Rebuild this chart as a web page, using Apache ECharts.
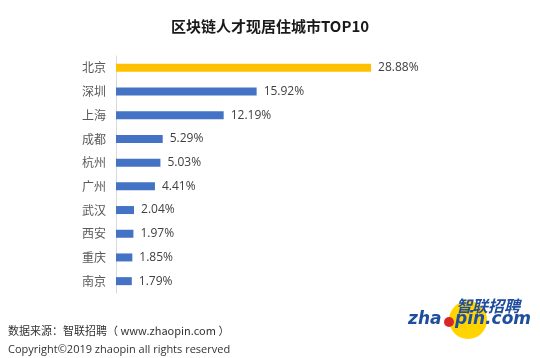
<!DOCTYPE html>
<html><head><meta charset="utf-8">
<script src="https://cdn.jsdelivr.net/npm/echarts@6/dist/echarts.min.js"></script>
<style>html,body{margin:0;padding:0;background:#fff}#c{width:540px;height:358px}</style>
</head><body><div id="c"></div>
<script>
const categories = ['北京','深圳','上海','成都','杭州','广州','武汉','西安','重庆','南京'];
const values = [28.88, 15.92, 12.19, 5.29, 5.03, 4.41, 2.04, 1.97, 1.85, 1.79];
const highlightColor = '#FFC000';
const baseColor = '#4472C4';
const chart = echarts.init(document.getElementById('c'));
const cjk = '"Noto Sans CJK SC", "Microsoft YaHei", sans-serif';
chart.setOption({
  backgroundColor: '#fff',
  animation: false,
  title: {
    text: '区块链人才现居住城市TOP10',
    left: 'center', top: 14,
    textStyle: {fontFamily: cjk, fontSize: 15, fontWeight: 'bold', color: '#1a1a1a'}
  },
  grid: {left: 116, right: 159, top: 56, bottom: 65, containLabel: false},
  xAxis: {type: 'value', min: 0, max: 30, show: false},
  yAxis: {
    type: 'category', data: categories, inverse: true,
    axisLine: {show: true, lineStyle: {color: '#d9d9d9', width: 1}},
    axisTick: {show: false},
    axisLabel: {fontFamily: cjk, fontSize: 12, color: '#595959', margin: 10}
  },
  series: [{
    type: 'bar',
    data: values.map((v, i) => ({value: v, itemStyle: {color: i === 0 ? highlightColor : baseColor}})),
    barWidth: 8,
    label: {
      show: true, position: 'right', distance: 7,
      formatter: p => p.value.toFixed(2) + '%',
      fontFamily: '"Open Sans", sans-serif', fontSize: 12, color: '#404040'
    }
  }],
  graphic: [
    {type: 'text', left: 8, top: 325, style: {text: '数据来源：智联招聘（ www.zhaopin.com ）', font: '11px ' + cjk, fill: '#333'}},
    {type: 'text', left: 8, top: 344, style: {text: 'Copyright©2019 zhaopin all rights reserved', font: '11px "Open Sans", sans-serif', fill: '#333'}},
    {type: 'circle', shape: {cx: 468, cy: 320, r: 19}, style: {fill: '#FFD400'}},
    {type: 'text', x: 456, y: 298, style: {text: '智联招聘', font: 'italic bold 16px ' + cjk, fill: '#1f4e9e'}},
    {type: 'text', x: 408, y: 311, style: {text: 'zha', font: 'italic bold 17px "DejaVu Sans", sans-serif', fill: '#1f4e9e'}},
    {type: 'circle', shape: {cx: 449, cy: 322, r: 5}, style: {fill: '#d9262b'}},
    {type: 'text', x: 455, y: 311, style: {text: 'pin.com', font: 'italic bold 17px "DejaVu Sans", sans-serif', fill: '#1f4e9e'}}
  ]
});
</script></body></html>
